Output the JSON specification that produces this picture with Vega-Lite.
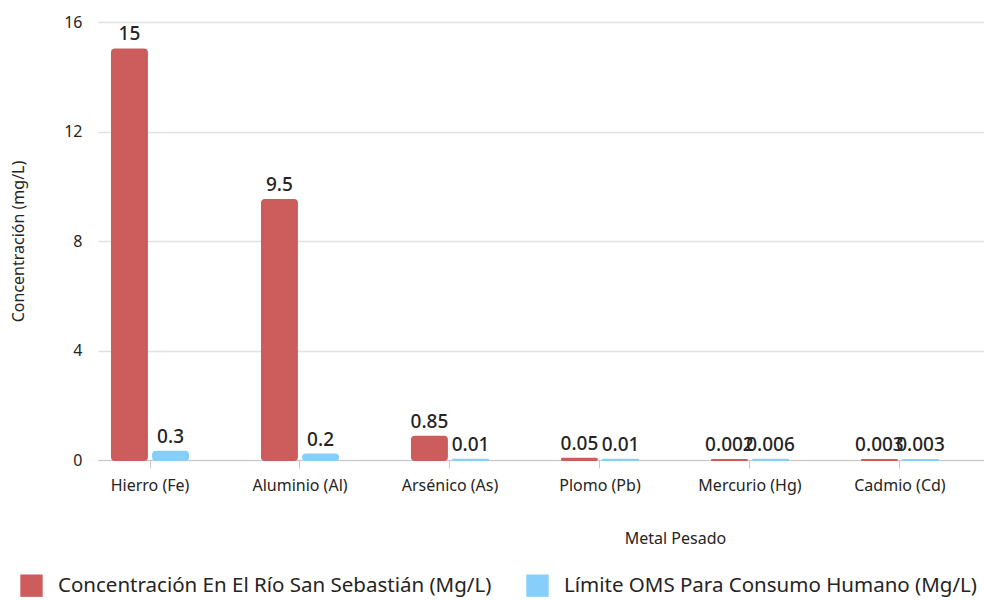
{
  "$schema": "https://vega.github.io/schema/vega-lite/v6.json",
  "width": 886,
  "height": 438,
  "autosize": "none",
  "padding": {"left": 98, "top": 22, "right": 0, "bottom": 140},
  "background": "white",
  "config": {
    "font": "Noto Sans",
    "view": {"stroke": null}
  },
  "data": {
    "values": [
      {"metal": "Hierro (Fe)", "serie": "Concentración En El Río San Sebastián (Mg/L)", "valor": 15},
      {"metal": "Hierro (Fe)", "serie": "Límite OMS Para Consumo Humano (Mg/L)", "valor": 0.3},
      {"metal": "Aluminio (Al)", "serie": "Concentración En El Río San Sebastián (Mg/L)", "valor": 9.5},
      {"metal": "Aluminio (Al)", "serie": "Límite OMS Para Consumo Humano (Mg/L)", "valor": 0.2},
      {"metal": "Arsénico (As)", "serie": "Concentración En El Río San Sebastián (Mg/L)", "valor": 0.85},
      {"metal": "Arsénico (As)", "serie": "Límite OMS Para Consumo Humano (Mg/L)", "valor": 0.01},
      {"metal": "Plomo (Pb)", "serie": "Concentración En El Río San Sebastián (Mg/L)", "valor": 0.05},
      {"metal": "Plomo (Pb)", "serie": "Límite OMS Para Consumo Humano (Mg/L)", "valor": 0.01},
      {"metal": "Mercurio (Hg)", "serie": "Concentración En El Río San Sebastián (Mg/L)", "valor": 0.002},
      {"metal": "Mercurio (Hg)", "serie": "Límite OMS Para Consumo Humano (Mg/L)", "valor": 0.006},
      {"metal": "Cadmio (Cd)", "serie": "Concentración En El Río San Sebastián (Mg/L)", "valor": 0.003},
      {"metal": "Cadmio (Cd)", "serie": "Límite OMS Para Consumo Humano (Mg/L)", "valor": 0.003}
    ]
  },
  "encoding": {
    "x": {
      "field": "metal",
      "type": "nominal",
      "sort": null,
      "scale": {"paddingInner": 0.493, "paddingOuter": 0.2, "align": 0.233},
      "axis": {
        "title": "Metal Pesado",
        "titleFontSize": 16,
        "titleFontWeight": "normal",
        "titleColor": "#252423",
        "titleX": 577,
        "titleY": 78,
        "titleBaseline": "middle",
        "labelAngle": 0,
        "labelFontSize": 16,
        "labelColor": "#252423",
        "labelPadding": 9,
        "domainColor": "#c8c8c8",
        "tickColor": "#c8c8c8",
        "tickSize": 8,
        "grid": false
      }
    },
    "xOffset": {
      "field": "serie",
      "type": "nominal",
      "sort": ["Concentración En El Río San Sebastián (Mg/L)", "Límite OMS Para Consumo Humano (Mg/L)"],
      "scale": {"paddingInner": 0.15, "paddingOuter": 0}
    },
    "y": {
      "field": "valor",
      "type": "quantitative",
      "scale": {"domain": [0, 16], "nice": false},
      "axis": {
        "title": "Concentración (mg/L)",
        "titleFontSize": 16,
        "titleFontWeight": "normal",
        "titleColor": "#252423",
        "titleX": -72,
        "values": [0, 4, 8, 12, 16],
        "labelFontSize": 16,
        "labelColor": "#252423",
        "labelPadding": 16,
        "domain": false,
        "ticks": false,
        "gridColor": "#e1e1e1",
        "gridWidth": 1.5
      }
    }
  },
  "layer": [
    {
      "mark": {"type": "bar", "cornerRadius": 3, "strokeWidth": 2, "strokeJoin": "round"},
      "encoding": {
        "color": {
          "field": "serie",
          "type": "nominal",
          "sort": ["Concentración En El Río San Sebastián (Mg/L)", "Límite OMS Para Consumo Humano (Mg/L)"],
          "scale": {"range": ["#CD5C5C", "#87CEFA"]},
          "legend": {
            "title": null,
            "orient": "none",
            "direction": "horizontal",
            "legendX": -78,
            "legendY": 552,
            "symbolType": "square",
            "symbolSize": 500,
            "symbolStrokeWidth": 0,
            "labelFontSize": 20.5,
            "labelColor": "#252423",
            "labelOffset": 15,
            "labelLimit": 600,
            "columnPadding": 34
          }
        },
        "stroke": {
          "field": "serie",
          "type": "nominal",
          "sort": ["Concentración En El Río San Sebastián (Mg/L)", "Límite OMS Para Consumo Humano (Mg/L)"],
          "scale": {"range": ["#CD5C5C", "#87CEFA"]},
          "legend": null
        }
      }
    },
    {
      "mark": {"type": "text", "baseline": "bottom", "dy": -5, "fontSize": 19, "color": "#252423", "fontWeight": 500},
      "encoding": {
        "text": {"field": "valor", "type": "quantitative", "format": "~g"}
      }
    }
  ]
}
